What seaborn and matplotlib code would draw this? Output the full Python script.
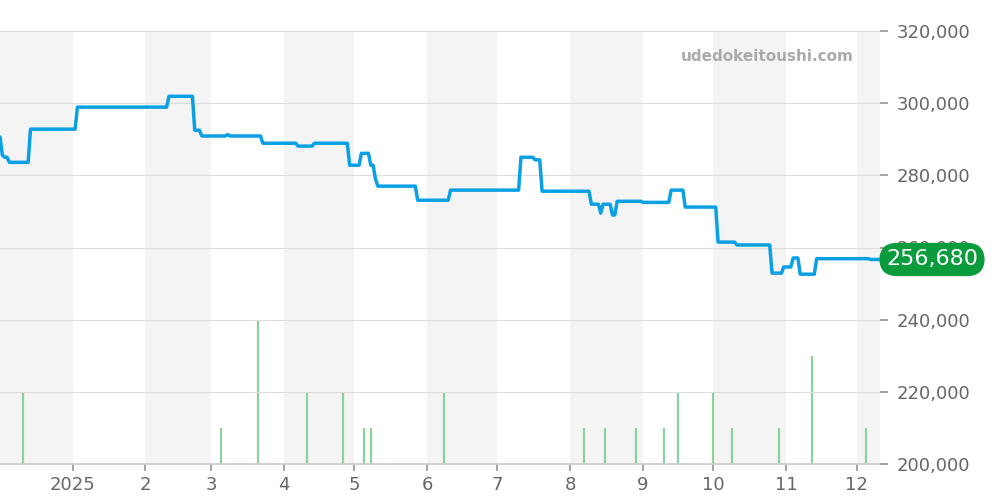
import matplotlib
matplotlib.use("Agg")
import matplotlib.pyplot as plt
import seaborn as sns
import pandas as pd

sns.set_theme(style="white")
plt.rcParams['font.family'] = ['DejaVu Sans']

price_dates = ["2024-12-01","2024-12-02","2024-12-03","2024-12-05","2024-12-14","2025-01-03","2025-02-09","2025-02-11",
               "2025-02-22","2025-02-25","2025-03-08","2025-03-09","2025-03-23","2025-04-07","2025-04-14","2025-04-29",
               "2025-05-04","2025-05-08","2025-05-10","2025-05-11","2025-05-28","2025-06-11","2025-07-11","2025-07-17",
               "2025-07-20","2025-08-10","2025-08-14","2025-08-15","2025-08-19","2025-08-21","2025-09-01","2025-09-13",
               "2025-09-19","2025-10-03","2025-10-11","2025-10-26","2025-10-31","2025-11-04","2025-11-07","2025-11-14",
               "2025-12-07","2025-12-11"]
price_values = [290600,285600,285000,283600,292800,298900,298900,301900,
                292500,290900,291300,290900,288900,288100,288900,282800,
                286100,282800,279000,277000,273100,275900,285000,284300,
                275600,272000,269500,272000,269000,272800,272500,275900,
                271200,261500,260700,252900,254600,257100,252600,256900,
                256680,256680]

vol_dates = ["2024-12-11","2025-03-05","2025-03-21","2025-04-11","2025-04-26","2025-05-05","2025-05-08","2025-06-08",
             "2025-08-07","2025-08-16","2025-08-29","2025-09-10","2025-09-16","2025-10-01","2025-10-09","2025-10-29",
             "2025-11-12","2025-12-05"]
vol_values = [2,1,4,2,2,1,1,2,1,1,1,1,2,2,1,1,3,1]

tick_labels = ["2025","2","3","4","5","6","7","8","9","10","11","12"]
y_ticks = [200000,220000,240000,260000,280000,300000,320000]
last_label = "256,680"

# daily series (each recorded value holds until the next record)
pser = pd.Series(price_values, index=pd.to_datetime(price_dates))
daily = pser.resample("D").ffill()
df = pd.DataFrame({"date": daily.index, "price": daily.values})
vdf = pd.DataFrame({"date": pd.to_datetime(vol_dates), "vol": vol_values})

fig = plt.figure(figsize=(10, 5), dpi=100)
axv = fig.add_axes([0.0, 0.072, 0.88, 0.866])
ax = axv.twinx()

start, end = pd.Timestamp("2024-12-01"), pd.Timestamp("2025-12-11")
months = pd.date_range("2024-12-01", "2026-01-01", freq="MS")
for i in range(len(months) - 1):
    if i % 2 == 0:
        axv.axvspan(months[i], months[i + 1], color="#f4f4f4", zorder=0, lw=0)

axv.vlines(vdf["date"], 0, vdf["vol"], color="#8fd19e", lw=1.6, zorder=2)
axv.set_ylim(0, 12)
axv.set_xlim(start, end)
axv.set_yticks([])

sns.lineplot(data=df, x="date", y="price", ax=ax, color="#0aa0e6", lw=2.5, zorder=3)
ax.set_xlim(start, end)
ax.set_ylim(200000, 320000)
ax.set_yticks(y_ticks)
ax.set_yticklabels([f"{v:,}" for v in y_ticks], fontsize=13, color="#666666")
ax.tick_params(axis="y", length=6, color="#999999", pad=6, right=True, direction="out")
ax.grid(axis="y", color="#dddddd", lw=0.8)
ax.set_axisbelow(True)
ticks = pd.date_range("2025-01-01", "2025-12-01", freq="MS")
axv.set_xticks(ticks)
axv.set_xticklabels(tick_labels, fontsize=13, color="#666666")
axv.tick_params(axis="x", length=5, color="#999999", bottom=True, direction="out")
for a in (ax, axv):
    a.set_xlabel(""); a.set_ylabel("")
    for s in a.spines.values():
        s.set_visible(False)
axv.spines["bottom"].set_visible(True)
axv.spines["bottom"].set_color("#cccccc")

ax.text(0.97, 0.94, "udedokeitoushi.com", transform=ax.transAxes, ha="right", va="center",
        fontsize=11, fontweight="bold", color="#aaaaaa")
ax.text(1.0 + 0.006 / 0.88, 256680, last_label, transform=ax.get_yaxis_transform(),
        ha="left", va="center", fontsize=16, color="white", zorder=10,
        bbox=dict(boxstyle="round,pad=0.3,rounding_size=0.8", fc="#0a9b3c", ec="none"), clip_on=False)

fig.savefig("out.png", dpi=100)
